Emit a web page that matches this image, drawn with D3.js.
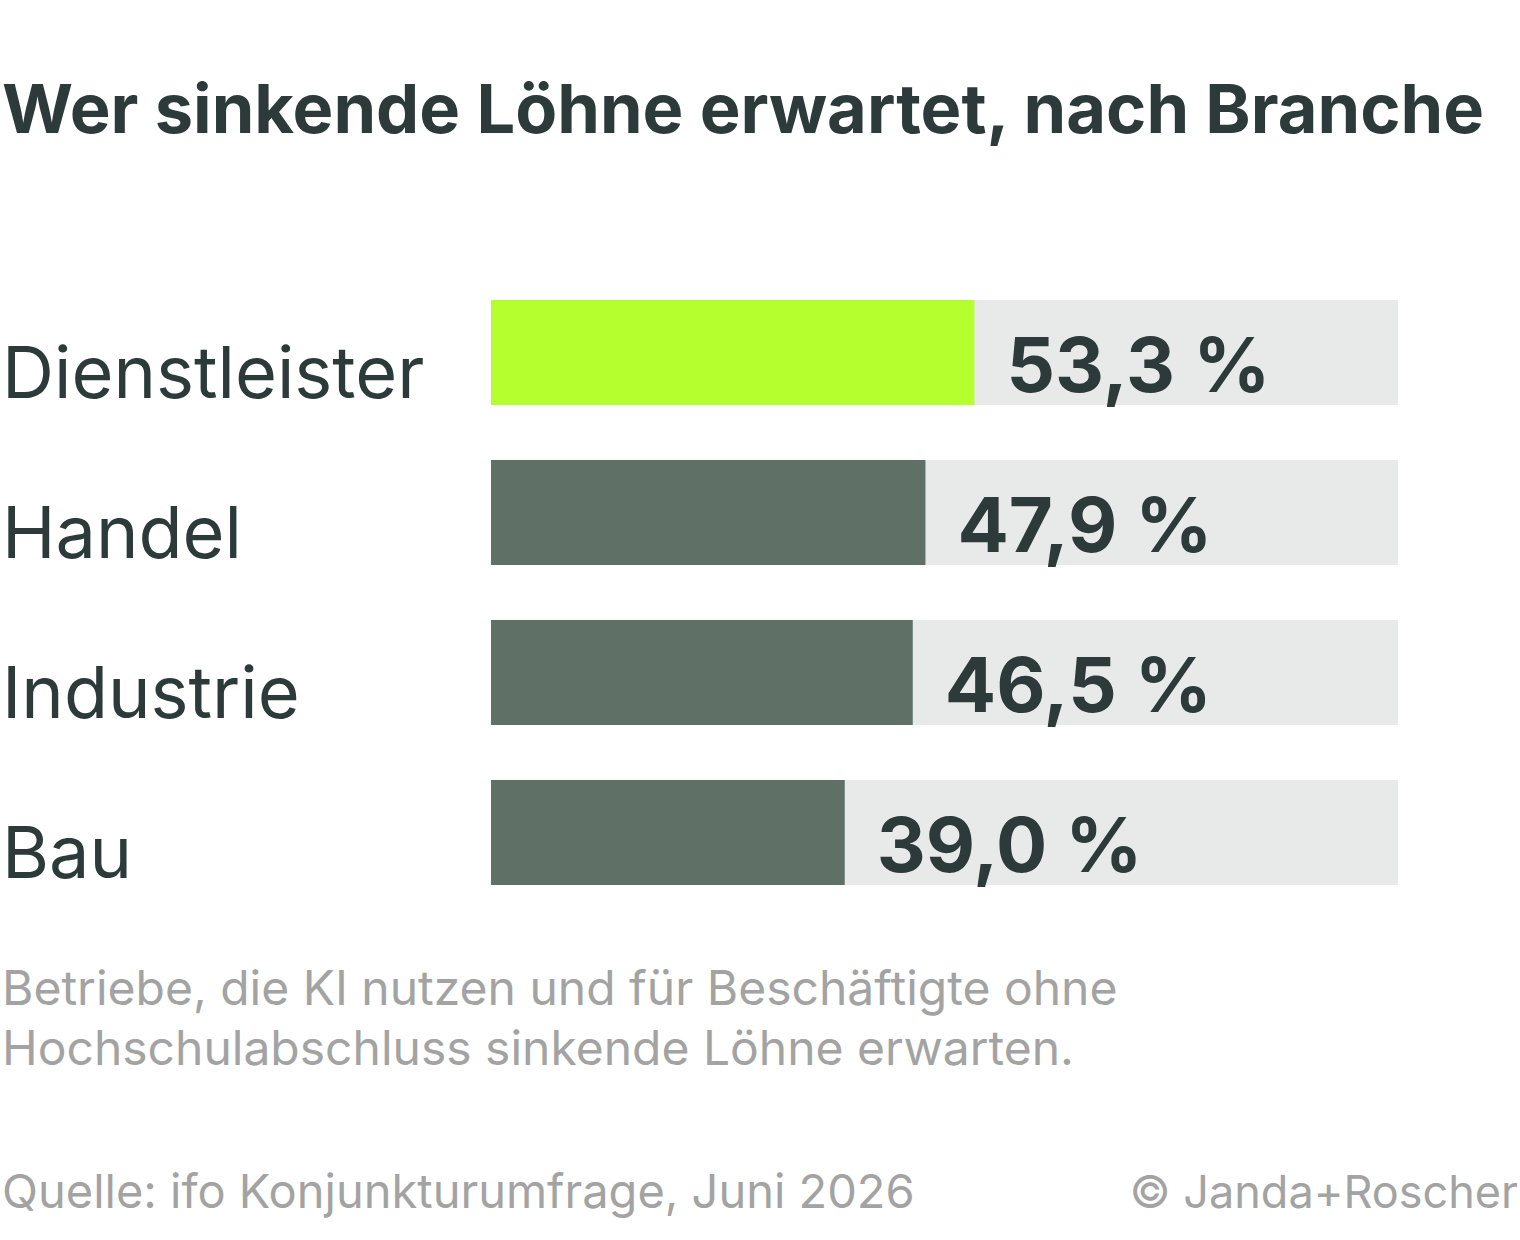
<!DOCTYPE html>
<html><head><meta charset="utf-8">
<script src="https://cdn.jsdelivr.net/npm/d3@7"></script>
<style>body{margin:0;background:#fff}</style></head>
<body><svg id="c" width="1520" height="1240"></svg>
<script>
const categories = ["Dienstleister","Handel","Industrie","Bau"];
const values = [53.3,47.9,46.5,39.0];
const highlight = ["Dienstleister"];
const svg = d3.select("#c");
const F = "Inter, 'Open Sans', sans-serif";
const dark = "#2d3a3a";
svg.append("text").attr("x",2).attr("y",133).attr("font-family",F).attr("font-weight",700)
  .attr("font-size",68).attr("fill",dark).attr("textLength",1482).attr("lengthAdjust","spacingAndGlyphs")
  .text("Wer sinkende Löhne erwartet, nach Branche");
const x = d3.scaleLinear().domain([0,100]).range([491,1398]);
const y = d3.scaleBand().domain(categories).range([300,885]).paddingInner(55/160).paddingOuter(0);
const g = svg.append("g");
const rows = g.selectAll("g").data(categories).join("g");
rows.append("rect").attr("x",x(0)).attr("y",d=>y(d)).attr("width",x(100)-x(0)).attr("height",y.bandwidth()).attr("fill","#e7eae9");
rows.append("rect").attr("x",x(0)).attr("y",d=>y(d)).attr("width",(d,i)=>x(values[i])-x(0)).attr("height",y.bandwidth())
  .attr("fill",d=>highlight.includes(d)?"#b5ff2f":"#5f7067");
rows.append("text").attr("x",2).attr("y",d=>y(d)+98).attr("font-family",F).attr("font-size",72).attr("fill",dark).text(d=>d);
rows.append("text").attr("x",(d,i)=>x(values[i])+32).attr("y",d=>y(d)+92).attr("font-family",F).attr("font-weight",700)
  .attr("font-size",76).attr("fill",dark).text((d,i)=>values[i].toFixed(1).replace(".",",")+" %");
const gray="#a3a3a3";
["Betriebe, die KI nutzen und für Beschäftigte ohne","Hochschulabschluss sinkende Löhne erwarten."].forEach((t,i)=>
  svg.append("text").attr("x",2).attr("y",1005+i*60).attr("font-family",F).attr("font-size",48).attr("fill",gray).text(t));
svg.append("text").attr("x",2).attr("y",1208).attr("font-family",F).attr("font-size",47).attr("fill",gray).text("Quelle: ifo Konjunkturumfrage, Juni 2026");
svg.append("text").attr("x",1518).attr("y",1208).attr("text-anchor","end").attr("font-family",F).attr("font-size",45).attr("fill",gray).text("© Janda+Roscher");
</script></body></html>
